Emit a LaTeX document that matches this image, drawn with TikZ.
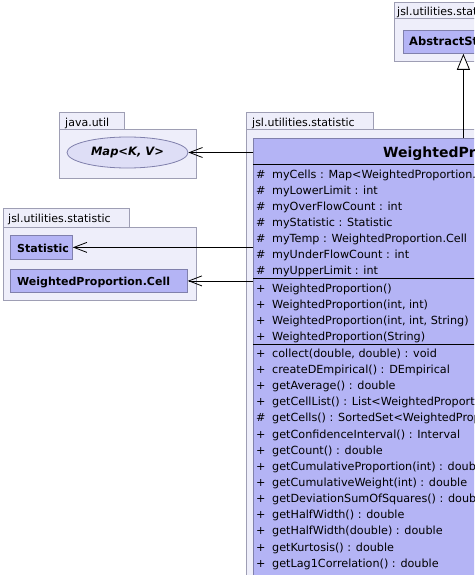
\documentclass[tikz,border=0pt]{standalone}
\usepackage{fontspec}
\setmainfont{DejaVu Sans}
\usetikzlibrary{arrows.meta,shapes.geometric}
\definecolor{pkgfill}{RGB}{238,238,250}
\definecolor{pkgdraw}{RGB}{158,158,180}
\definecolor{clsfill}{RGB}{180,180,245}
\definecolor{clsdraw}{RGB}{128,128,172}
\definecolor{ifill}{RGB}{222,222,246}
\newcommand{\mrow}[4]{%
  \node[msym] (#1s) at (256,#2) {#3};
  \node[mtxt] (#1) at (272,#2) {#4};}
\tikzset{
  pkg/.style={draw=pkgdraw, fill=pkgfill, line width=0.8pt, anchor=north west, inner sep=0pt},
  pkglabel/.style={anchor=base west, inner sep=0pt, font=\fontsize{11}{13}\selectfont},
  cls/.style={draw=clsdraw, fill=clsfill, line width=0.8pt, anchor=north west, inner sep=0pt},
  clslabel/.style={anchor=base west, inner sep=0pt, font=\fontsize{11}{13}\selectfont\bfseries},
  msym/.style={anchor=base west, inner sep=0pt, font=\fontsize{11.2}{13}\selectfont},
  mtxt/.style={anchor=base west, inner sep=0pt, font=\fontsize{11.2}{13}\selectfont},
  sepline/.style={draw=black, line width=0.8pt},
  assoc/.style={draw=black, line width=0.8pt, -{Straight Barb[length=13pt,width=10pt,line width=0.8pt]}},
  inherit/.style={draw=black, line width=0.8pt, -{Triangle[open,length=16pt,width=13pt,fill=white,line width=0.8pt]}}
}
\begin{document}
\begin{tikzpicture}[x=1pt,y=-1pt]
\useasboundingbox (0,0) rectangle (474,575);
\clip (0,0) rectangle (474,575);
\fill[white] (0,0) rectangle (474,575);

% top-right package
\node[pkg, minimum width=130pt, minimum height=16pt] (ptab1) at (394,2.5) {};
\node[pkg, minimum width=200pt, minimum height=43pt] (pbody1) at (394,18.5) {};
\node[pkglabel] (ptab1t) at (397,15.5) {jsl.utilities.statistic};

% java.util package
\node[pkg, minimum width=65pt, minimum height=17pt] (ptab2) at (59,112) {};
\node[pkg, minimum width=137pt, minimum height=49pt] (pbody2) at (59,129) {};
\node[pkglabel] (ptab2t) at (65,126) {java.util};

% lower-left package
\node[pkg, minimum width=126pt, minimum height=19pt] (ptab3) at (3,208) {};
\node[pkg, minimum width=193pt, minimum height=73pt] (pbody3) at (3,227) {};
\node[pkglabel] (ptab3t) at (8,222.5) {jsl.utilities.statistic};

% main package
\node[pkg, minimum width=127pt, minimum height=17pt] (ptab4) at (246,112) {};
\node[pkg, minimum width=500pt, minimum height=500pt] (pbody4) at (246,129) {};
\node[pkglabel] (ptab4t) at (252,126) {jsl.utilities.statistic};

% AbstractStatistic
\node[cls, minimum width=120pt, minimum height=23pt] (abs) at (403,30) {};
\node[clslabel, font=\fontsize{11.5}{13}\selectfont\bfseries] (abst) at (409,46) {AbstractStatistic};

% Map<K, V>
\node[ellipse, draw=clsdraw, fill=ifill, line width=0.8pt, minimum width=121pt, minimum height=31pt, inner sep=0pt,
      font=\fontsize{11.5}{13}\selectfont\bfseries\itshape] (map) at (127.5,152.5) {Map<K, V>};

% Statistic and Cell
\node[cls, minimum width=62pt, minimum height=24pt] (stat) at (10,235) {};
\node[clslabel] (statt) at (17,252.7) {Statistic};
\node[cls, minimum width=177pt, minimum height=23pt] (cell) at (10,269) {};
\node[clslabel] (cellt) at (17,285.7) {WeightedProportion.Cell};

% WeightedProportion
\node[cls, minimum width=420pt, minimum height=500pt] (wp) at (253,138) {};
\node[anchor=base, inner sep=0pt, font=\fontsize{14}{16}\selectfont\bfseries] (wpt) at (463,157.5) {WeightedProportion};
\draw[sepline] ([yshift=-26pt]wp.north west) -- ([yshift=-26pt]wp.north east);
\draw[sepline] ([yshift=-140pt]wp.north west) -- ([yshift=-140pt]wp.north east);
\draw[sepline] ([yshift=-206pt]wp.north west) -- ([yshift=-206pt]wp.north east);

\mrow{a1}{178.3}{\#}{myCells : Map<WeightedProportion.Cell, WeightedProportion.Cell>}
\mrow{a2}{194.4}{\#}{myLowerLimit : int}
\mrow{a3}{210.4}{\#}{myOverFlowCount : int}
\mrow{a4}{226.5}{\#}{myStatistic : Statistic}
\mrow{a5}{242.6}{\#}{myTemp : WeightedProportion.Cell}
\mrow{a6}{258.6}{\#}{myUnderFlowCount : int}
\mrow{a7}{274.7}{\#}{myUpperLimit : int}

\mrow{c1}{292.8}{+}{WeightedProportion()}
\mrow{c2}{308.8}{+}{WeightedProportion(int, int)}
\mrow{c3}{324.8}{+}{WeightedProportion(int, int, String)}
\mrow{c4}{340.6}{+}{WeightedProportion(String)}

\mrow{m1}{357.2}{+}{collect(double, double) : void}
\mrow{m2}{373.4}{+}{createDEmpirical() : DEmpirical}
\mrow{m3}{389.5}{+}{getAverage() : double}
\mrow{m4}{405.7}{+}{getCellList() : List<WeightedProportion.Cell>}
\mrow{m5}{421.8}{\#}{getCells() : SortedSet<WeightedProportion.Cell>}
\mrow{m6}{438.0}{+}{getConfidenceInterval() : Interval}
\mrow{m7}{454.1}{+}{getCount() : double}
\mrow{m8}{470.3}{+}{getCumulativeProportion(int) : double}
\mrow{m9}{486.4}{+}{getCumulativeWeight(int) : double}
\mrow{m10}{502.6}{+}{getDeviationSumOfSquares() : double}
\mrow{m11}{518.7}{+}{getHalfWidth() : double}
\mrow{m12}{534.9}{+}{getHalfWidth(double) : double}
\mrow{m13}{551.0}{+}{getKurtosis() : double}
\mrow{m14}{567.2}{+}{getLag1Correlation() : double}

% connectors
\draw[inherit] (wp.north) -- (abs.south);
\draw[assoc] (wp.west |- map.east) -- (map.east);
\draw[assoc] (wp.west |- stat.east) -- (stat.east);
\draw[assoc] (wp.west |- cell.east) -- (cell.east);
\end{tikzpicture}
\end{document}
